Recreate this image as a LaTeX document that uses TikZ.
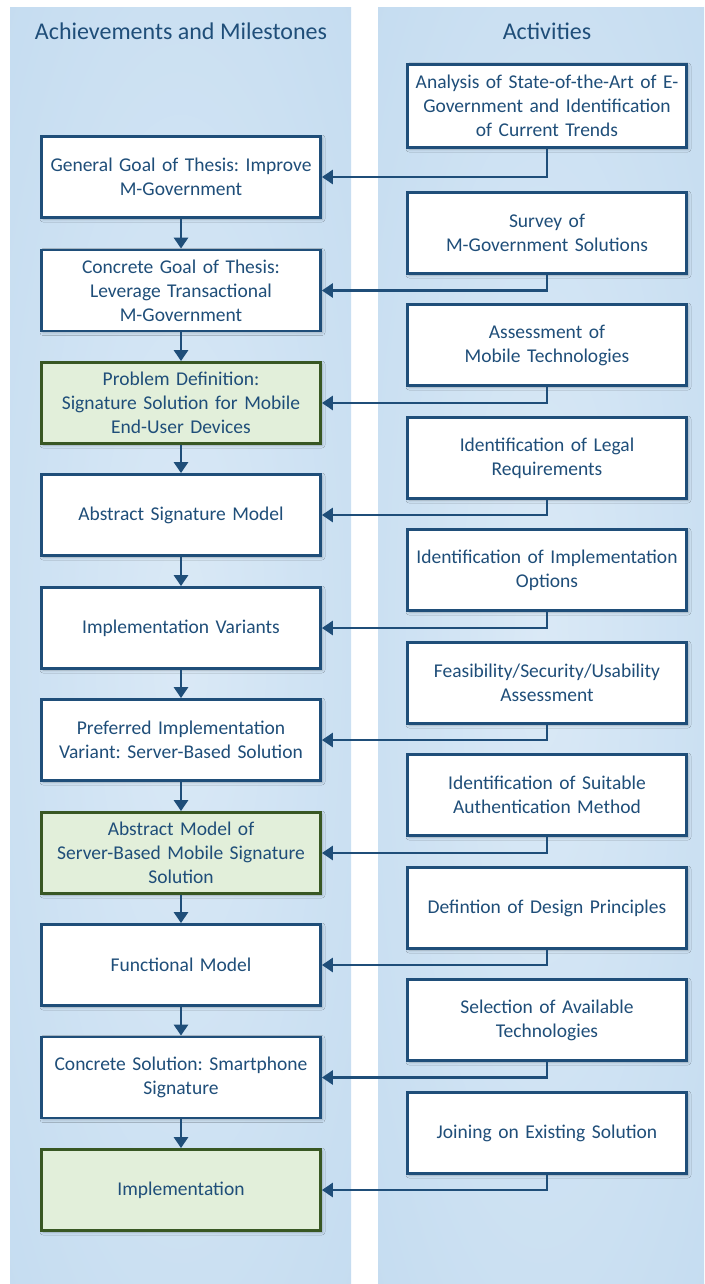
\documentclass[tikz,border=0pt]{standalone}
\usepackage{fontspec}
\setmainfont{Carlito}
\frenchspacing
\usetikzlibrary{arrows.meta,shadows.blur}
\definecolor{navy}{HTML}{1F4E79}
\definecolor{inktext}{HTML}{1F4E79}
\definecolor{greenfill}{HTML}{E2EFDA}
\definecolor{greenedge}{HTML}{385723}
\definecolor{lanedark}{HTML}{BDD7EE}
\definecolor{lanemid}{HTML}{CBE0F2}
\definecolor{lanelight}{HTML}{DAE9F6}
\pgfdeclareradialshading{lane}{\pgfpoint{0bp}{0bp}}{%
  color(0bp)=(lanelight); color(25bp)=(lanemid); color(50bp)=(lanedark); color(100bp)=(lanedark)}
\begin{document}
\begin{tikzpicture}[x=1pt,y=-1pt,
  box/.style={draw=navy, line width=2.8pt, fill=white,
    minimum width=279pt, minimum height=81pt, text width=278pt,
    align=center, inner sep=0pt, text=inktext,
    font=\fontsize{19.5}{24}\selectfont,
    blur shadow={shadow xshift=1.5pt, shadow yshift=-1.5pt,
      shadow blur radius=3pt, shadow opacity=25}},
  goal/.style={box, fill=greenfill, draw=greenedge},
  header/.style={text=inktext, font=\fontsize{24}{28}\selectfont},
  link/.style={draw=navy, line width=2.8pt, -{Triangle[length=11pt,width=14pt]}}]

\useasboundingbox (0,0) rectangle (704,1284);
\fill[white] (0,0) rectangle (704,1284);

% swim lanes
\shade[shading=lane] (10,8) rectangle (351,1284);
\shade[shading=lane] (378,8) rectangle (704,1284);

\node[header] (hleft) at (181,31) {Achievements and Milestones};
\node[header] (hright) at (547,31) {Activities};

% milestones (left lane)
\node[box]  (l1)  at (181,177)    {General Goal of Thesis: Improve\\M-Government};
\node[box]  (l2)  at (181,290.5)  {Concrete Goal of Thesis:\\Leverage Transactional\\M-Government};
\node[goal] (l3)  at (181,403)    {Problem Definition:\\Signature Solution for Mobile\\End-User Devices};
\node[box]  (l4)  at (181,515)    {Abstract Signature Model};
\node[box]  (l5)  at (181,628)    {Implementation Variants};
\node[box]  (l6)  at (181,740)    {Preferred Implementation\\Variant: Server-Based Solution};
\node[goal] (l7)  at (181,853)    {Abstract Model of\\Server-Based Mobile Signature\\Solution};
\node[box]  (l8)  at (181,965)    {Functional Model};
\node[box]  (l9)  at (181,1077.5) {Concrete Solution: Smartphone\\Signature};
\node[goal] (l10) at (181,1190)   {Implementation};

% activities (right lane)
\node[box, minimum height=83pt] (r1) at (547,106) {Analysis of State-of-the-Art of E-\\Government and Identification\\of Current Trends};
\node[box] (r2)  at (547,233)    {Survey of\\M-Government Solutions};
\node[box] (r3)  at (547,345)    {Assessment of\\Mobile Technologies};
\node[box] (r4)  at (547,458)    {Identification of Legal\\Requirements};
\node[box] (r5)  at (547,570)    {Identification of Implementation\\Options};
\node[box] (r6)  at (547,683)    {Feasibility/Security/Usability\\Assessment};
\node[box] (r7)  at (547,795)    {Identification of Suitable\\Authentication Method};
\node[box] (r8)  at (547,908)    {Defintion of Design Principles};
\node[box] (r9)  at (547,1020)   {Selection of Available\\Technologies};
\node[box] (r10) at (547,1133)   {Joining on Existing Solution};

% milestone chain
\foreach \a/\b in {l1/l2,l2/l3,l3/l4,l4/l5,l5/l6,l6/l7,l7/l8,l8/l9,l9/l10}
  \draw[link] (\a) -- (\b);

% activities feeding milestones
\foreach \i in {1,...,10}
  \draw[link] (r\i.south) |- (l\i.east);
\end{tikzpicture}
\end{document}
